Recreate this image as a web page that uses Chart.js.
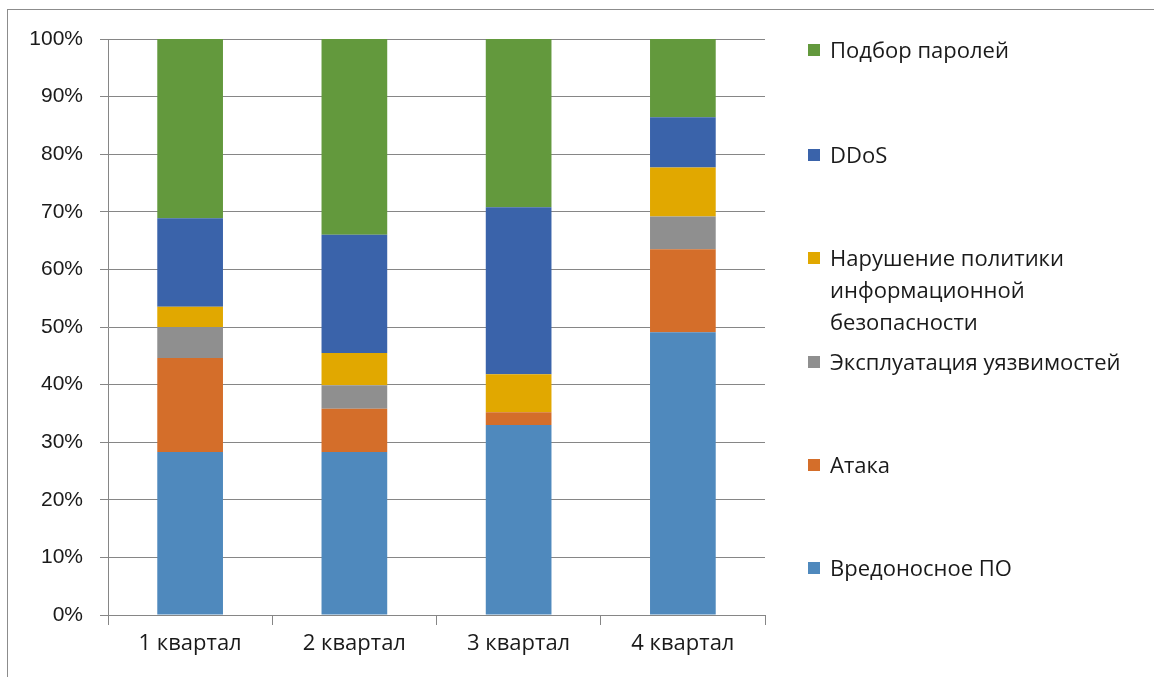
<!DOCTYPE html>
<html>
<head>
<meta charset="utf-8">
<script src="https://cdn.jsdelivr.net/npm/chart.js@4.4.0/dist/chart.umd.min.js"></script>
<style>
    html, body { margin: 0; padding: 0; background: #fff; }
    #wrap { position: relative; width: 1154px; height: 677px; }
    #frame { position: absolute; left: 7px; top: 9px; right: -2px; bottom: -2px;
             border-left: 1px solid #8c8c8c; border-top: 1px solid #8c8c8c; }
    canvas { position: absolute; left: 0; top: 0; }
    #legend { position: absolute; left: 0; top: 0; font-family: "Open Sans", sans-serif;
              font-size: 22px; color: #1a1a1a; }
    .item { position: absolute; left: 808px; white-space: nowrap; line-height: 32px; }
    .swatch { position: absolute; left: 0; width: 12px; height: 12px; top: 10px; }
    .txt { position: absolute; left: 22px; top: -1px; }
</style>
</head>
<body>
<div id="wrap">
    <div id="frame"></div>
    <canvas id="chart" width="1154" height="677"></canvas>
    <div id="legend"></div>
</div>
<script>
const quarters = ["1 квартал", "2 квартал", "3 квартал", "4 квартал"];

const seriesNames = [
    "Вредоносное ПО",
    "Атака",
    "Эксплуатация уязвимостей",
    "Нарушение политики информационной безопасности",
    "DDoS",
    "Подбор паролей",
];
const seriesColors = ["#4f89bd", "#d46e2a", "#8f8f8f", "#e1a800", "#3a63aa", "#63993d"];

// percent shares per quarter
const malware   = [28.3, 28.3, 33.0, 49.1];
const attack    = [16.3,  7.5,  2.2, 14.4];
const exploit   = [ 5.4,  4.1,  0.0,  5.7];
const policy    = [ 3.5,  5.6,  6.6,  8.5];
const ddos      = [15.4, 20.5, 29.0,  8.7];
const passwords = [31.1, 34.0, 29.2, 13.6];

const yTicks = [0, 10, 20, 30, 40, 50, 60, 70, 80, 90, 100];

// legend lines (top to bottom) and their top offsets
const legendLines = [
    ["Подбор паролей"],
    ["DDoS"],
    ["Нарушение политики", "информационной", "безопасности"],
    ["Эксплуатация уязвимостей"],
    ["Атака"],
    ["Вредоносное ПО"],
];
const legendTops = [34, 139, 242, 346, 449, 552];

const seriesData = [malware, attack, exploit, policy, ddos, passwords];

function buildLegend() {
    const box = document.getElementById("legend");
    const order = [5, 4, 3, 2, 1, 0];
    order.forEach((si, i) => {
        const item = document.createElement("div");
        item.className = "item";
        item.style.top = legendTops[i] + "px";
        const sw = document.createElement("div");
        sw.className = "swatch";
        sw.style.background = seriesColors[si];
        const tx = document.createElement("div");
        tx.className = "txt";
        tx.innerHTML = legendLines[i].join("<br>");
        item.appendChild(sw);
        item.appendChild(tx);
        box.appendChild(item);
    });
}

function initChart() {
    const ctx = document.getElementById("chart").getContext("2d");
    new Chart(ctx, {
        type: "bar",
        data: {
            labels: quarters,
            datasets: seriesNames.map((name, i) => ({
                label: name,
                data: seriesData[i],
                backgroundColor: seriesColors[i],
                borderWidth: 0,
                categoryPercentage: 1.0,
                barPercentage: 0.4,
            })),
        },
        options: {
            responsive: false,
            animation: false,
            layout: { padding: { left: 0, right: 389, top: 39, bottom: 0 } },
            plugins: { legend: { display: false }, tooltip: { enabled: false } },
            scales: {
                x: {
                    stacked: true,
                    border: { color: "#868686", width: 1 },
                    grid: { drawOnChartArea: false, drawTicks: true, tickLength: 10, color: "#868686", offset: true },
                    ticks: { color: "#1a1a1a", font: { family: "Open Sans", size: 22 }, padding: 6 },
                    afterFit: (s) => { s.height = 62; },
                },
                y: {
                    stacked: true,
                    min: 0, max: 100,
                    border: { color: "#868686", width: 1 },
                    grid: { color: "#868686", tickLength: 8 },
                    afterBuildTicks: (s) => { s.ticks = yTicks.map(v => ({ value: v })); },
                    ticks: {
                        color: "#1a1a1a",
                        font: { family: "Liberation Sans", size: 21 },
                        padding: 17,
                        callback: (v) => v + "%",
                    },
                    afterFit: (s) => { s.width = 108; },
                },
            },
        },
    });
}

document.addEventListener("DOMContentLoaded", () => {
    buildLegend();
    initChart();
});
</script>
</body>
</html>
